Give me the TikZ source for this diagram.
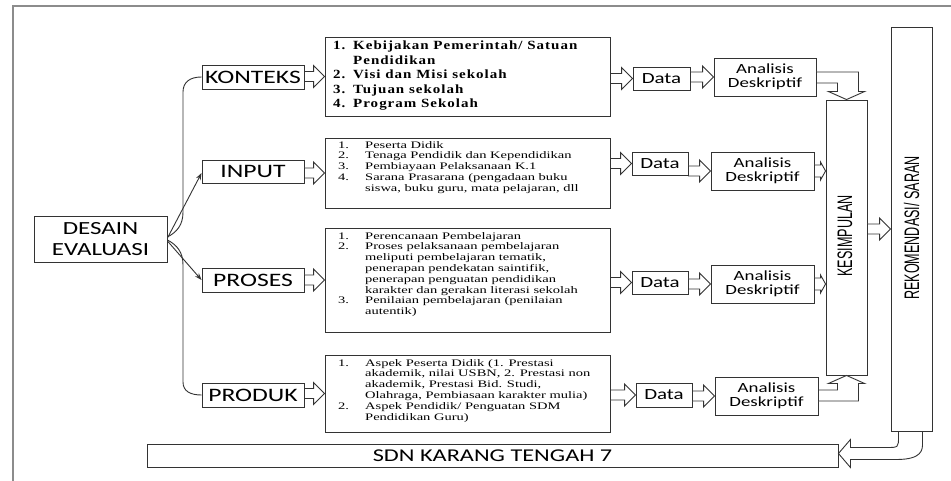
\documentclass[tikz,border=0pt]{standalone}
\usepackage{fontspec}
\setmainfont{Liberation Serif}
\newfontfamily\labf[FakeStretch=1.35]{Carlito}
\newfontfamily\serA[FakeStretch=1.2,LetterSpace=8]{Liberation Serif Bold}
\newfontfamily\serB[FakeStretch=1.45]{Liberation Serif}
\newfontfamily\narrowf[FakeStretch=0.6]{Liberation Sans}
\usetikzlibrary{calc,arrows.meta}
\tikzset{
  bx/.style={draw=black!80, line width=0.9pt, inner sep=0pt, align=center},
  lab/.style={font=\labf\fontsize{19}{20}\selectfont},
  dat/.style={font=\labf\fontsize{15.5}{16}\selectfont},
  ana/.style={font=\labf\fontsize{14}{14.5}\selectfont},
  txtA/.style={inner sep=0pt, anchor=north west, align=left, font=\serA\fontsize{12.5}{14.5}\selectfont},
  txtB/.style={inner sep=0pt, anchor=north west, align=left, font=\serB\fontsize{10}{10.8}\selectfont},
  rot/.style={rotate=90, inner sep=0pt, font=\narrowf\fontsize{21}{22}\selectfont},
  blk/.style={draw=black!80, line width=0.9pt, fill=white, line join=miter},
  conn/.style={draw=black!80, line width=0.9pt},
  frame/.style={draw=black!45, line width=1.2pt}
}
\newcommand\rblock[2]{%
  \draw[blk] let \p1=(#1.east), \p2=(#2.west) in
   (\x1,{\y2+5pt}) -- ({\x2-11pt},{\y2+5pt}) -- ({\x2-11pt},{\y2+11pt}) -- (\x2,\y2)
   -- ({\x2-11pt},{\y2-11pt}) -- ({\x2-11pt},{\y2-5pt}) -- (\x1,{\y2-5pt}) -- cycle;}
\newcommand\sblock[2]{%
  \draw[blk] let \p1=(#1.east), \p2=(#2.west) in
   (\x1,{\y1+6pt}) -- ({\x2-5pt},{\y1+6pt}) -- ({\x2-5pt},{\y1+9pt}) -- (\x2,\y1)
   -- ({\x2-5pt},{\y1-9pt}) -- ({\x2-5pt},{\y1-6pt}) -- (\x1,{\y1-6pt}) -- cycle;}
\begin{document}
\begin{tikzpicture}[x=1pt,y=-1pt]
\fill[white] (0,0) rectangle (951,481);
\useasboundingbox (0,0) rectangle (951,481);
\draw[frame] (13,481) -- (13,6) -- (951,6);

% left column
\node[bx, font=\labf\fontsize{18.5}{21}\selectfont, minimum width=133pt, minimum height=46pt] (desain) at (100.5,239) {DESAIN\\EVALUASI};
\node[bx, lab, minimum width=102pt, minimum height=24pt] (konteks) at (253,77) {KONTEKS};
\node[bx, lab, minimum width=102pt, minimum height=23pt] (input) at (253,171.5) {INPUT};
\node[bx, lab, minimum width=102pt, minimum height=24pt] (proses) at (253,280) {PROSES};
\node[bx, lab, minimum width=102pt, minimum height=24pt] (produk) at (253,395) {PRODUK};

% content boxes
\node[bx, minimum width=285pt, minimum height=79pt] (c1) at (467.5,76.5) {};
\node[bx, minimum width=285pt, minimum height=70pt] (c2) at (467.5,173) {};
\node[bx, minimum width=285pt, minimum height=104pt] (c3) at (467.5,280) {};
\node[bx, minimum width=285pt, minimum height=77pt] (c4) at (467.5,393.5) {};

\node[txtA] (c1t) at (333,41) {\makebox[20pt][l]{1.}Kebijakan Pemerintah/ Satuan\\
\hspace*{20pt}Pendidikan\\
\makebox[20pt][l]{2.}Visi dan Misi sekolah\\
\makebox[20pt][l]{3.}Tujuan sekolah\\
\makebox[20pt][l]{4.}Program Sekolah};

\node[txtB] (c2t) at (338,141) {\makebox[27pt][l]{1.}Peserta Didik\\
\makebox[27pt][l]{2.}Tenaga Pendidik dan Kependidikan\\
\makebox[27pt][l]{3.}Pembiayaan Pelaksanaan K.1\\
\makebox[27pt][l]{4.}Sarana Prasarana (pengadaan buku\\
\hspace*{27pt}siswa, buku guru, mata pelajaran, dll};

\node[txtB] (c3t) at (338,232) {\makebox[27pt][l]{1.}Perencanaan Pembelajaran\\
\makebox[27pt][l]{2.}Proses pelaksanaan pembelajaran\\
\hspace*{27pt}meliputi pembelajaran tematik,\\
\hspace*{27pt}penerapan pendekatan saintifik,\\
\hspace*{27pt}penerapan penguatan pendidikan\\
\hspace*{27pt}karakter dan gerakan literasi sekolah\\
\makebox[27pt][l]{3.}Penilaian pembelajaran (penilaian\\
\hspace*{27pt}autentik)};

\node[txtB] (c4t) at (338,359) {\makebox[27pt][l]{1.}Aspek Peserta Didik (1. Prestasi\\
\hspace*{27pt}akademik, nilai USBN, 2. Prestasi non\\
\hspace*{27pt}akademik, Prestasi Bid. Studi,\\
\hspace*{27pt}Olahraga, Pembiasaan karakter mulia)\\
\makebox[27pt][l]{2.}Aspek Pendidik/ Penguatan SDM\\
\hspace*{27pt}Pendidikan Guru)};

% data boxes
\node[bx, dat, minimum width=57pt, minimum height=23pt] (d1) at (661.5,78.5) {Data};
\node[bx, dat, minimum width=56pt, minimum height=23pt] (d2) at (660,163.5) {Data};
\node[bx, dat, minimum width=56pt, minimum height=23pt] (d3) at (660,282.5) {Data};
\node[bx, dat, minimum width=56pt, minimum height=24pt] (d4) at (664,395) {Data};

% analysis boxes
\node[bx, ana, minimum width=102pt, minimum height=38pt] (a1) at (765,77) {Analisis\\Deskriptif};
\node[bx, ana, minimum width=103pt, minimum height=38pt] (a2) at (762.5,171) {Analisis\\Deskriptif};
\node[bx, ana, minimum width=103pt, minimum height=38pt] (a3) at (762.5,284) {Analisis\\Deskriptif};
\node[bx, ana, minimum width=103pt, minimum height=38pt] (a4) at (766.5,396) {Analisis\\Deskriptif};

% conclusion / recommendation
\node[bx, minimum width=41pt, minimum height=275pt] (kes) at (846.5,237.5) {};
\node[rot] (kest) at (845,236) {KESIMPULAN};
\node[bx, minimum width=41pt, minimum height=404pt] (rek) at (911.5,229) {};
\node[rot] (rekt) at (911.5,228) {REKOMENDASI/ SARAN};

% bottom bar
\node[bx, font=\labf\fontsize{18}{18}\selectfont, minimum width=691pt, minimum height=23pt] (sdn) at (492.5,455.5) {SDN KARANG TENGAH 7};

% connectors from DESAIN
\draw[conn] ([yshift=2pt]desain.east) .. controls (177,232) and (183,225) .. (183,212)
  -- (183,92) .. controls (183,82) and (190,77) .. (konteks.west);
\draw[conn] ([yshift=-1pt]desain.east) .. controls (177,245) and (183,252) .. (183,265)
  -- (183,382) .. controls (183,391) and (190,395) .. (produk.west);
\draw[conn, -{Stealth[length=7pt,width=5pt]}] ([yshift=1pt]desain.east) -- ([yshift=-1.5pt]input.west);
\draw[conn, -{Stealth[length=7pt,width=5pt]}] ([yshift=-2pt]desain.east) -- (proses.west);

% block arrows
\rblock{konteks}{c1}
\rblock{input}{c2}
\rblock{proses}{c3}
\rblock{produk}{c4}
\rblock{c1}{d1}
\rblock{c2}{d2}
\rblock{c3}{d3}
\rblock{c4}{d4}
\rblock{d1}{a1}
\rblock{d2}{a2}
\rblock{d3}{a3}
\rblock{d4}{a4}
\sblock{a2}{kes}
\sblock{a3}{kes}
\rblock{kes}{rek}

% elbow arrow into top of KESIMPULAN
\draw[blk] let \p1=(a1.east), \p2=(kes.north) in
  (\x1,{\y1+5pt}) -- ({\x2+12pt},{\y1+5pt}) -- ({\x2+12pt},{\y2+8pt}) -- ({\x2+18pt},{\y2+8pt})
  -- (\x2,\y2) -- ({\x2-18pt},{\y2+8pt}) -- ({\x2-9pt},{\y2+8pt}) -- ({\x2-9pt},{\y1-6pt})
  -- (\x1,{\y1-6pt}) -- cycle;
% elbow arrow into bottom of KESIMPULAN
\draw[blk] let \p1=(a4.east), \p2=(kes.south) in
  (\x1,{\y1-5pt}) -- ({\x2+12pt},{\y1-5pt}) -- ({\x2+12pt},{\y2-8pt}) -- ({\x2+18pt},{\y2-8pt})
  -- (\x2,\y2) -- ({\x2-18pt},{\y2-8pt}) -- ({\x2-9pt},{\y2-8pt}) -- ({\x2-9pt},{\y1+6pt})
  -- (\x1,{\y1+6pt}) -- cycle;
% curved arrow from REKOMENDASI to SDN
\draw[blk] let \p1=(rek.south), \p2=(sdn.east) in
  ({\x1-13pt},\y1) -- ({\x1-13pt},{\y1-5pt}) .. controls ({\x1-13pt},{\y2+8pt}) .. ({\x1-25pt},{\y2+8pt})
  -- ({\x2+12pt},{\y2+8pt}) -- ({\x2+12pt},{\y2+16pt}) -- (\x2,{\y2+2pt}) -- ({\x2+12pt},{\y2-12pt})
  -- ({\x2+12pt},{\y2-4pt}) -- ({\x1-15pt},{\y2-4pt}) .. controls ({\x1+11pt},{\y2-4pt}) and ({\x1+11pt},{\y2+6pt}) .. ({\x1+11pt},{\y1-12pt})
  -- ({\x1+11pt},\y1) -- cycle;
\end{tikzpicture}
\end{document}
